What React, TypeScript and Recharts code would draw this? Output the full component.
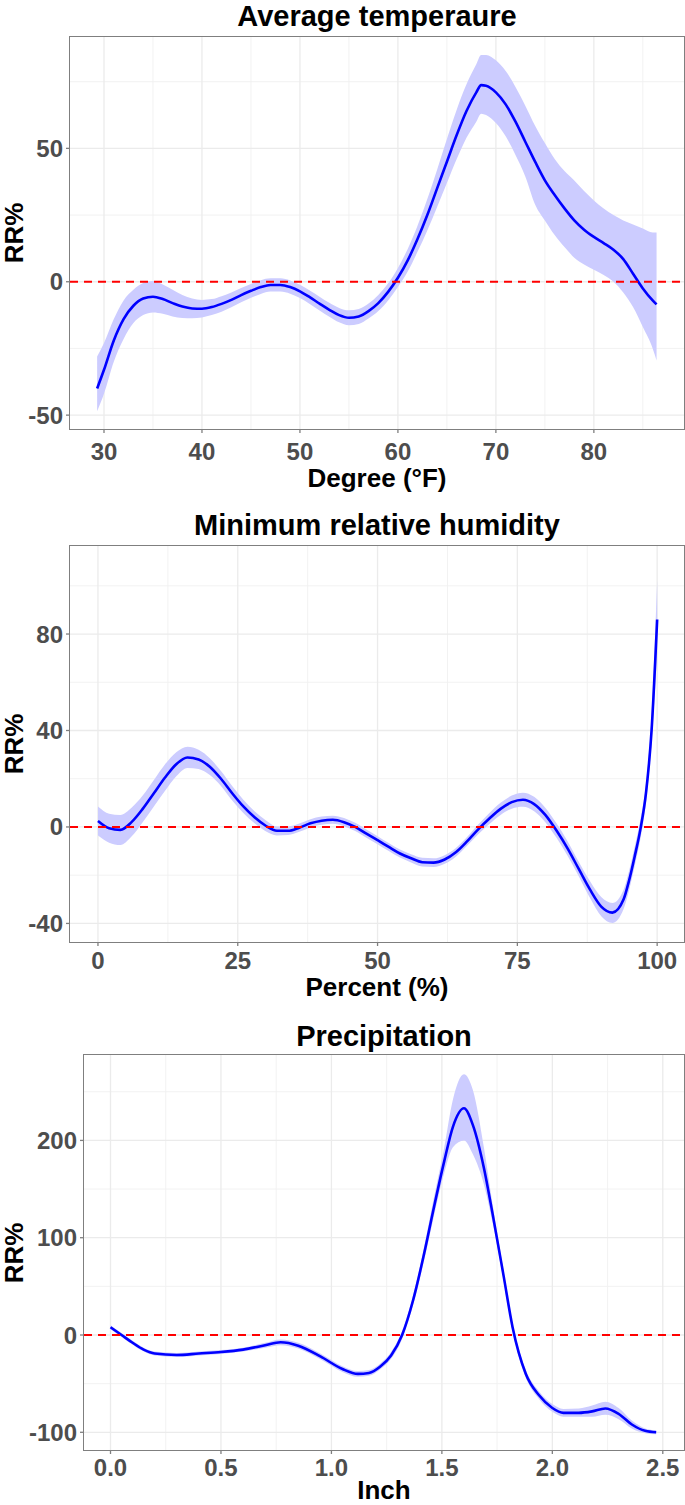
import React from 'react'
import {
  ComposedChart,
  Area,
  Line,
  XAxis,
  YAxis,
  CartesianGrid,
  ReferenceLine,
} from 'recharts'

// Average temperature (°F) — fitted RR% and its confidence band
const tempX = [29.3, 30, 31, 32, 33, 34, 35, 36, 37, 38, 39, 40, 41, 42, 43, 44, 45, 46, 47, 48, 49, 50, 51, 52, 53, 54, 55, 56, 57, 58, 59, 60, 61, 62, 63, 64, 65, 66, 67, 68, 68.5, 69, 70, 71, 72, 73, 74, 75, 76, 77, 78, 79, 80, 81, 82, 83, 84, 85, 86, 86.4]
const tempFit = [-40, -33, -22, -14, -9, -6.3, -5.6, -6.5, -8, -9.3, -10, -10.1, -9.5, -8.3, -6.8, -5, -3.4, -2, -1.2, -1.2, -2, -3.6, -5.8, -8.2, -10.5, -12.5, -13.5, -13, -11, -8, -3.8, 1.5, 8, 16, 25, 35, 45, 55, 64, 71, 73.7, 73.5, 71, 66.5, 60, 52.5, 45, 38, 32.5, 27.5, 23, 19.5, 16.8, 14.5, 12, 8.5, 3, -2.5, -7, -8.5]
const tempLo = [-48.5, -42, -30, -21.5, -15.5, -12.5, -11.5, -12, -13, -13.6, -13.7, -13.4, -12.5, -11.2, -9.6, -7.7, -6, -4.6, -3.7, -3.7, -4.5, -6.1, -8.3, -10.8, -13.1, -15.2, -16.3, -15.8, -13.8, -11, -7, -2, 3.8, 11.2, 19.2, 28, 37, 46, 54, 60, 63, 62.5, 59.5, 54.5, 47.5, 39.5, 29, 23, 17.5, 13, 9, 6.5, 4.5, 2.5, 0, -4, -9.5, -17, -25, -29.5]
const tempHi = [-28, -23, -14, -7, -3, -0.5, 0.3, -1, -3, -5, -6.3, -6.8, -6.5, -5.4, -4, -2.3, -0.8, 0.6, 1.3, 1.3, 0.5, -1.1, -3.3, -5.6, -7.9, -9.8, -10.7, -10.2, -8.2, -5, -0.6, 5.2, 12.3, 21, 31, 42, 53.5, 64.5, 74, 81.5, 85, 85, 83, 79, 73, 66, 58.5, 52, 46, 41.5, 38, 34, 30.5, 27.5, 25, 23, 21.5, 20, 18.5, 18.5]

// Minimum relative humidity (%)
const humX = [0, 2, 4, 6, 8, 10, 12, 14, 16, 18, 20, 22, 24, 26, 28, 30, 32, 34, 36, 38, 40, 42, 44, 46, 48, 50, 52, 54, 56, 58, 60, 62, 64, 66, 68, 70, 72, 74, 76, 78, 80, 82, 84, 86, 88, 90, 92, 94, 95, 96, 97, 98, 99, 100]
const humFit = [2.5, -0.5, -1.2, 2, 7.5, 14, 20.5, 26, 28.8, 28, 25, 20, 14, 8.5, 4, 0.5, -1.6, -1.6, -0.3, 1.5, 2.6, 3, 2, 0, -2.8, -5.5, -8.3, -11, -13, -14.6, -14.8, -13.5, -10.5, -6, -1, 3.5, 7.5, 10.3, 11.3, 9.5, 5, -1.5, -9, -17.5, -26, -33, -35.5, -30, -22, -12, -1, 14, 40, 86]
const humLo = [-3.5, -6.5, -7.5, -4, 2, 8.5, 15, 21, 24.5, 24, 21.5, 17, 11, 5.8, 1.5, -1.8, -3.5, -3.3, -2, -0.2, 0.9, 1.3, 0.3, -1.7, -4.5, -7.2, -10, -12.7, -14.7, -16.4, -16.6, -15.3, -12.3, -7.8, -3, 1.2, 5, 7.6, 8.4, 6.5, 2, -4.5, -12, -20.5, -29.5, -37, -39.8, -34, -26, -16, -5, 10, 35, 72]
const humHi = [8.5, 5.5, 5, 8, 13, 19.5, 26, 31, 33.3, 32, 28.5, 23.2, 17, 11.3, 6.5, 2.8, 0.2, 0.2, 1.4, 3.2, 4.3, 4.7, 3.7, 1.7, -1.1, -3.8, -6.6, -9.3, -11.3, -12.8, -13, -11.7, -8.7, -4.2, 1, 5.8, 10, 13, 14.2, 12.5, 8, 1.5, -6, -14.5, -22.5, -29, -31.5, -26, -18, -8, 3, 18, 46, 102]

// Precipitation (inch)
const precX = [0, 0.05, 0.1, 0.15, 0.2, 0.3, 0.4, 0.5, 0.6, 0.7, 0.77, 0.85, 0.95, 1.05, 1.12, 1.17, 1.22, 1.27, 1.32, 1.37, 1.42, 1.46, 1.51, 1.55, 1.6, 1.64, 1.69, 1.73, 1.78, 1.82, 1.88, 1.94, 2.0, 2.05, 2.12, 2.18, 2.24, 2.3, 2.36, 2.42, 2.47]
const precFit = [8, 0, -8, -15, -19, -20.5, -19, -17.5, -15, -10.5, -7.5, -11, -22, -35, -40, -39, -32.6, -21, 0, 36, 84, 127, 178, 214, 233, 216, 172, 124, 60, 8, -40, -62, -75, -80, -80, -78.5, -75.5, -81, -92, -98.5, -100]
const precLo = [6, -2, -10, -17, -21, -22.5, -21, -19.5, -17, -13, -10.5, -14, -25, -38, -43, -42, -35.5, -24.5, -4, 31, 77, 118, 166, 193, 200, 186, 155, 115, 55, 4, -44, -66, -79, -84, -84, -84, -82, -86.5, -96, -101, -102]
const precHi = [10, 2, -6, -13, -17, -18.5, -17, -15.5, -13, -8, -4.5, -8, -19, -32, -37, -36, -29.5, -17.5, 4, 41, 91, 137, 192, 242, 268, 252, 193, 134, 65, 12, -36, -58, -71, -76, -75.5, -72.5, -68.5, -75, -88, -96, -98]

// axis ticks and grid lines
const tempXTicks = [30, 40, 50, 60, 70, 80]
const tempXMinor = [35, 45, 55, 65, 75, 85]
const tempYTicks = [-50, 0, 50]
const tempYMinor = [-25, 25, 75]
const humXTicks = [0, 25, 50, 75, 100]
const humXMinor = [12.5, 37.5, 62.5, 87.5]
const humYTicks = [-40, 0, 40, 80]
const humYMinor = [-20, 20, 60, 100]
const precXTicks = [0, 0.5, 1, 1.5, 2, 2.5]
const precXMinor = [0.25, 0.75, 1.25, 1.75, 2.25]
const precYTicks = [-100, 0, 100, 200]
const precYMinor = [-50, 50, 150, 250]

const FONT = '"Liberation Sans", Arial, Helvetica, sans-serif'

function buildRows(xs: number[], fit: number[], lo: number[], hi: number[]) {
  return xs.map((x, i) => ({ x, fit: fit[i], band: [lo[i], hi[i]] }))
}

interface PanelProps {
  title: string
  xLabel: string
  rows: { x: number; fit: number; band: number[] }[]
  top: number
  height: number
  plotTop: number
  plotBottom: number
  plotLeft: number
  xDomain: [number, number]
  yDomain: [number, number]
  xTicks: number[]
  xMinor: number[]
  yTicks: number[]
  yMinor: number[]
  tickMargin: number
  titleTop: number
  xLabelTop: number
  fmt?: (v: number) => string
}

function Panel(p: PanelProps) {
  const width = 685
  const plotRight = 684
  const yAxisWidth = p.plotLeft - 10
  const xAxisHeight = 30
  const margin = {
    top: p.plotTop - p.top,
    right: width - plotRight,
    left: 10,
    bottom: p.top + p.height - p.plotBottom - xAxisHeight,
  }
  const tickStyle = { fill: '#4D4D4D', fontSize: 24, fontWeight: 700, fontFamily: FONT }
  const plotH = p.plotBottom - p.plotTop

  return (
    <>
      <div style={{ position: 'absolute', left: 0, top: p.top, width, height: p.height }}>
        <ComposedChart width={width} height={p.height} data={p.rows} margin={margin}>
          <CartesianGrid
            stroke="#F0F0F0"
            strokeWidth={0.9}
            horizontalValues={p.yMinor}
            verticalValues={p.xMinor}
          />
          <CartesianGrid
            stroke="#EBEBEB"
            strokeWidth={1.3}
            horizontalValues={p.yTicks}
            verticalValues={p.xTicks}
          />
          <XAxis
            type="number"
            dataKey="x"
            domain={p.xDomain}
            ticks={p.xTicks}
            interval={0}
            allowDataOverflow
            height={xAxisHeight}
            axisLine={false}
            tickLine={{ stroke: '#7F7F7F', strokeWidth: 1.3 }}
            tickSize={4}
            tickMargin={p.tickMargin}
            tick={tickStyle}
            tickFormatter={p.fmt}
          />
          <YAxis
            type="number"
            domain={p.yDomain}
            ticks={p.yTicks}
            interval={0}
            allowDataOverflow
            width={yAxisWidth}
            axisLine={false}
            tickLine={{ stroke: '#7F7F7F', strokeWidth: 1.3 }}
            tickSize={4}
            tickMargin={3}
            tick={tickStyle}
          />
          <Area
            type="monotone"
            dataKey="band"
            stroke="none"
            fill="#CCCCFF"
            fillOpacity={1}
            isAnimationActive={false}
            activeDot={false}
          />
          <Line
            type="monotone"
            dataKey="fit"
            stroke="#0000FF"
            strokeWidth={2.6}
            dot={false}
            activeDot={false}
            isAnimationActive={false}
          />
          <ReferenceLine y={0} stroke="#FF0000" strokeWidth={2} strokeDasharray="8 6" />
        </ComposedChart>
      </div>
      <div
        style={{
          position: 'absolute',
          left: p.plotLeft - 0.75,
          top: p.plotTop - 0.75,
          width: plotRight - p.plotLeft + 1.5,
          height: plotH + 1.5,
          border: '1.5px solid #7F7F7F',
          boxSizing: 'border-box',
          pointerEvents: 'none',
        }}
      />
      <div
        style={{
          position: 'absolute',
          left: p.plotLeft,
          width: plotRight - p.plotLeft,
          top: p.titleTop,
          textAlign: 'center',
          fontFamily: FONT,
          fontWeight: 700,
          fontSize: 29,
          lineHeight: '30px',
          color: '#000',
          whiteSpace: 'nowrap',
        }}
      >
        {p.title}
      </div>
      <div
        style={{
          position: 'absolute',
          left: p.plotLeft,
          width: plotRight - p.plotLeft,
          top: p.xLabelTop,
          textAlign: 'center',
          fontFamily: FONT,
          fontWeight: 700,
          fontSize: 26,
          lineHeight: '26px',
          color: '#000',
          whiteSpace: 'nowrap',
        }}
      >
        {p.xLabel}
      </div>
      <div
        style={{
          position: 'absolute',
          left: 14 - 50,
          width: 100,
          top: (p.plotTop + p.plotBottom) / 2 - 14,
          height: 28,
          lineHeight: '28px',
          textAlign: 'center',
          transform: 'rotate(-90deg)',
          fontFamily: FONT,
          fontWeight: 700,
          fontSize: 26,
          color: '#000',
        }}
      >
        RR%
      </div>
    </>
  )
}

export default function App() {
  return (
    <div
      style={{
        position: 'absolute',
        left: 0,
        top: 0,
        width: 685,
        height: 1505,
        background: '#FFFFFF',
        overflow: 'hidden',
      }}
    >
      <Panel
        title="Average temperaure"
        xLabel="Degree (°F)"
        rows={buildRows(tempX, tempFit, tempLo, tempHi)}
        top={0}
        height={500}
        plotTop={37}
        plotBottom={429}
        plotLeft={70}
        xDomain={[26.53, 89.2]}
        yDomain={[-55.2, 91.75]}
        xTicks={tempXTicks}
        xMinor={tempXMinor}
        yTicks={tempYTicks}
        yMinor={tempYMinor}
        tickMargin={10}
        titleTop={1}
        xLabelTop={465}
      />
      <Panel
        title="Minimum relative humidity"
        xLabel="Percent (%)"
        rows={buildRows(humX, humFit, humLo, humHi)}
        top={500}
        height={510}
        plotTop={546}
        plotBottom={942}
        plotLeft={70}
        xDomain={[-5, 104.8]}
        yDomain={[-47.7, 116.5]}
        xTicks={humXTicks}
        xMinor={humXMinor}
        yTicks={humYTicks}
        yMinor={humYMinor}
        tickMargin={6}
        titleTop={510}
        xLabelTop={974}
      />
      <Panel
        title="Precipitation"
        xLabel="Inch"
        rows={buildRows(precX, precFit, precLo, precHi)}
        top={1010}
        height={495}
        plotTop={1055}
        plotBottom={1450}
        plotLeft={84}
        xDomain={[-0.12, 2.596]}
        yDomain={[-118.2, 287.8]}
        xTicks={precXTicks}
        xMinor={precXMinor}
        yTicks={precYTicks}
        yMinor={precYMinor}
        tickMargin={5}
        titleTop={1021}
        xLabelTop={1477}
        fmt={(v: number) => v.toFixed(1)}
      />
    </div>
  )
}
